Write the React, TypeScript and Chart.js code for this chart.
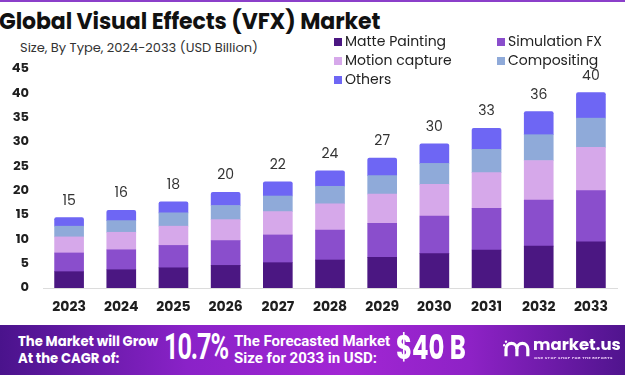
import React, { useEffect, useRef } from "react";
import { Chart, registerables } from "chart.js";

Chart.register(...registerables);

const years = ["2023", "2024", "2025", "2026", "2027", "2028", "2029", "2030", "2031", "2032", "2033"];
const mattePainting = [3.35, 3.75, 4.15, 4.65, 5.2, 5.75, 6.3, 7.05, 7.8, 8.6, 9.5];
const simulationFx = [3.85, 4.1, 4.6, 5.1, 5.7, 6.15, 7.0, 7.75, 8.55, 9.45, 10.5];
const motionCapture = [3.3, 3.6, 3.95, 4.3, 4.8, 5.4, 6.0, 6.5, 7.35, 8.15, 8.9];
const compositing = [2.2, 2.4, 2.75, 2.9, 3.2, 3.6, 3.8, 4.3, 4.8, 5.3, 6.0];
const others = [1.75, 2.1, 2.25, 2.7, 2.9, 3.2, 3.6, 4.0, 4.3, 4.75, 5.25];
const totalLabels = ["15", "16", "18", "20", "22", "24", "27", "30", "33", "36", "40"];

const seriesNames = ["Matte Painting", "Simulation FX", "Motion capture", "Compositing", "Others"];
const seriesColors = ["#4b1782", "#8a4ecc", "#d6a8ea", "#8faad9", "#6e66f4"];
const legendOrder = [0, 1, 2, 3, 4];

const FONT = "Poppins, Inter, 'Open Sans', sans-serif";

const totalsPlugin = {
  id: "totals",
  afterDatasetsDraw(chart: any) {
    const ctx = chart.ctx;
    const last = chart.data.datasets.length - 1;
    const meta = chart.getDatasetMeta(last);
    ctx.save();
    ctx.font = "400 14px " + FONT;
    ctx.fillStyle = "#333333";
    ctx.textAlign = "center";
    ctx.textBaseline = "middle";
    meta.data.forEach((bar: any, i: number) => {
      ctx.fillText(totalLabels[i], bar.x, bar.y - 16.5);
    });
    ctx.restore();
  },
};

export default function App() {
  const ref = useRef<HTMLCanvasElement | null>(null);

  useEffect(() => {
    document.body.style.margin = "0";
    const seriesData = [mattePainting, simulationFx, motionCapture, compositing, others];
    const chart = new Chart(ref.current as HTMLCanvasElement, {
      type: "bar",
      data: {
        labels: years,
        datasets: seriesNames.map((name, i) => ({
          label: name,
          data: seriesData[i],
          backgroundColor: seriesColors[i],
          borderWidth: 0,
          barThickness: 29,
          borderRadius: i === seriesNames.length - 1 ? { topLeft: 2, topRight: 2, bottomLeft: 0, bottomRight: 0 } : 0,
          borderSkipped: false,
        })),
      },
      options: {
        responsive: false,
        animation: false,
        maintainAspectRatio: false,
        layout: { padding: { top: 69, right: 8, left: 0, bottom: 0 } },
        plugins: {
          legend: { display: false },
          tooltip: { enabled: false },
          title: { display: false },
        },
        scales: {
          x: {
            stacked: true,
            grid: { display: false, drawTicks: false },
            border: { display: true, color: "#dcdcdc", width: 1 },
            ticks: {
              color: "#1f1f1f",
              font: { family: FONT, size: 14, weight: "bold" },
              padding: 11,
            },
            afterFit(scale: any) {
              scale.height = 37;
            },
          },
          y: {
            stacked: true,
            min: 0,
            max: 45,
            grid: { display: false, drawTicks: false },
            border: { display: false },
            ticks: {
              stepSize: 5,
              color: "#1f1f1f",
              font: { family: FONT, size: 13, weight: "bold" },
              padding: 14,
            },
            afterFit(scale: any) {
              scale.width = 43;
            },
          },
        },
      },
      plugins: [totalsPlugin],
    });
    return () => chart.destroy();
  }, []);

  const legendItem = (idx: number, left: number, top: number) => (
    <div
      key={idx}
      style={{
        position: "absolute",
        left,
        top,
        display: "flex",
        alignItems: "center",
        fontFamily: FONT,
        fontSize: 14,
        color: "#222",
        whiteSpace: "nowrap",
      }}
    >
      <span style={{ width: 8, height: 8, background: seriesColors[idx], display: "inline-block", marginRight: 3 }} />
      {seriesNames[idx]}
    </div>
  );

  return (
    <div style={{ position: "fixed", left: 0, top: 0, width: 625, height: 375, overflow: "hidden", background: "#fff" }}>
      <div style={{ position: "absolute", left: 0, top: 0, width: 625, height: 2, background: "#8b3fca" }} />
      <div
        style={{
          position: "absolute",
          left: -1,
          top: 5,
          fontFamily: FONT,
          fontWeight: 700,
          fontSize: 22,
          color: "#111",
          whiteSpace: "nowrap",
          letterSpacing: -0.1,
        }}
      >
        Global Visual Effects (VFX) Market
      </div>
      <div
        style={{
          position: "absolute",
          left: 20,
          top: 38,
          fontFamily: FONT,
          fontSize: 13,
          color: "#333",
          whiteSpace: "nowrap",
        }}
      >
        Size, By Type, 2024-2033 (USD Billion)
      </div>
      <canvas ref={ref} width={625} height={325} style={{ position: "absolute", left: 0, top: 0, width: 625, height: 325 }} />
      {legendItem(legendOrder[0], 334, 31)}
      {legendItem(legendOrder[1], 497, 31)}
      {legendItem(legendOrder[2], 334, 50)}
      {legendItem(legendOrder[3], 497, 50)}
      {legendItem(legendOrder[4], 334, 69)}
      <div
        style={{
          position: "absolute",
          left: 0,
          top: 325,
          width: 625,
          height: 50,
          background: "linear-gradient(90deg, #4a138c 0%, #8a22c8 30%, #a226d4 55%, #8e22c6 75%, #50148e 100%)",
        }}
      >
        <div
          style={{
            position: "absolute",
            left: 18,
            top: 8,
            fontFamily: FONT,
            fontWeight: 700,
            fontSize: 13.2,
            lineHeight: "17px",
            color: "#fff",
            whiteSpace: "nowrap",
          }}
        >
          The Market will Grow
          <br />
          At the CAGR of:
        </div>
        <div
          style={{
            position: "absolute",
            left: 164,
            top: 1,
            fontFamily: "Roboto, sans-serif",
            fontWeight: 700,
            fontSize: 36,
            lineHeight: "42px",
            color: "#fff",
            whiteSpace: "nowrap",
            letterSpacing: -1.5,
            transform: "scaleX(0.7)",
            transformOrigin: "left center",
          }}
        >
          10.7%
        </div>
        <div
          style={{
            position: "absolute",
            left: 234,
            top: 8,
            fontFamily: "Roboto, sans-serif",
            fontWeight: 700,
            fontSize: 15,
            lineHeight: "17px",
            color: "#fff",
            whiteSpace: "nowrap",
          }}
        >
          The Forecasted Market
          <br />
          Size for 2033 in USD:
        </div>
        <div
          style={{
            position: "absolute",
            left: 396,
            top: 3,
            fontFamily: FONT,
            fontWeight: 700,
            fontSize: 33,
            lineHeight: "40px",
            color: "#fff",
            whiteSpace: "nowrap",
            transform: "scaleX(0.74)",
            transformOrigin: "left center",
          }}
        >
          $40 B
        </div>
        <svg style={{ position: "absolute", left: 502, top: 13 }} width={28} height={20} viewBox="0 0 30 22">
          <path d="M4 20 V12 a6 6 0 0 1 12 0 V20" stroke="#fff" strokeWidth={3.5} fill="none" />
          <path d="M16 12 a6 6 0 0 1 12 0 V20" stroke="#fff" strokeWidth={3.5} fill="none" />
          <circle cx={2} cy={8} r={1.3} fill="#fff" />
          <circle cx={4} cy={4} r={1.3} fill="#fff" />
        </svg>
        <div
          style={{
            position: "absolute",
            left: 533,
            top: 10,
            fontFamily: FONT,
            fontWeight: 700,
            fontSize: 16.5,
            lineHeight: "20px",
            color: "#fff",
            whiteSpace: "nowrap",
          }}
        >
          market.us
        </div>
        <div
          style={{
            position: "absolute",
            left: 534,
            top: 30,
            fontFamily: FONT,
            fontWeight: 700,
            fontSize: 4,
            color: "#e8c8f5",
            whiteSpace: "nowrap",
            letterSpacing: 0.4,
          }}
        >
          ONE STOP SHOP FOR THE REPORTS
        </div>
      </div>
    </div>
  );
}
